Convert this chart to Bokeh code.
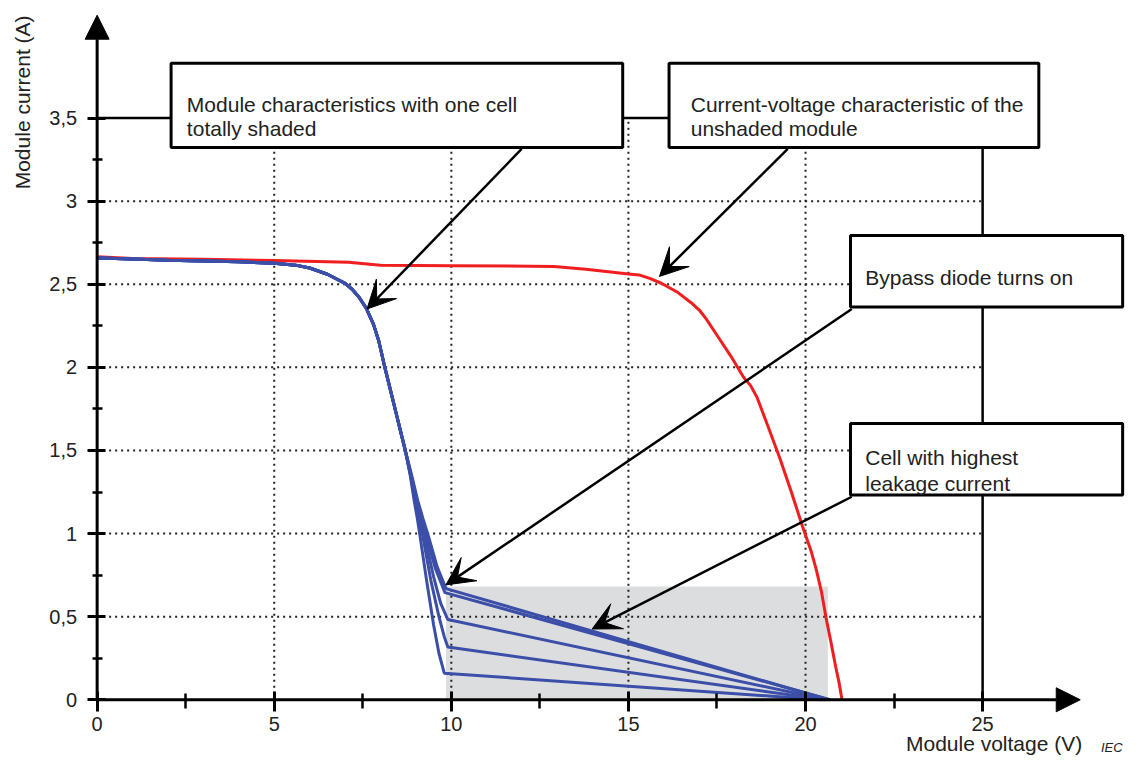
from math import pi
from bokeh.plotting import figure
from bokeh.models import (Range1d, LinearAxis, FixedTicker, Arrow, NormalHead, VeeHead,
                          BoxAnnotation, Label)
from bokeh.embed import file_html
from bokeh.resources import INLINE

# ---------------- data ----------------
# Unshaded module I-V characteristic
unshaded_v = [0, 1, 3, 5, 7.1, 8, 10, 12.9, 13.8, 15.0, 15.3, 15.6, 15.93, 16.4, 16.77, 17.0,
              17.2, 17.51, 17.9, 18.25, 18.45, 18.63, 18.95, 19.28, 19.6, 19.92, 20.15, 20.3,
              20.45, 20.58, 20.72, 20.85, 20.95, 21.03]
unshaded_i = [2.665, 2.655, 2.65, 2.643, 2.633, 2.615, 2.612, 2.607, 2.59, 2.562, 2.556,
              2.535, 2.506, 2.45, 2.389, 2.345, 2.29, 2.19, 2.065, 1.94, 1.89, 1.82, 1.64,
              1.45, 1.25, 1.04, 0.9, 0.786, 0.65, 0.493, 0.345, 0.2, 0.1, 0.0]

# Module with one cell totally shaded: common upper part
shaded_common_v = [0, 1, 2, 3, 4, 5, 5.6, 6.0, 6.5, 7.0, 7.2, 7.4, 7.6, 7.8, 7.95, 8.1,
                   8.25, 8.4, 8.55, 8.7]
shaded_common_i = [2.658, 2.652, 2.645, 2.64, 2.635, 2.627, 2.615, 2.598, 2.56, 2.505,
                   2.47, 2.42, 2.355, 2.26, 2.16, 2.02, 1.89, 1.76, 1.63, 1.5]

# individual lower parts (different shaded cells / leakage currents)
shaded_a_v = [8.88, 9.05, 9.2, 9.36, 9.6, 9.85, 20.65]
shaded_a_i = [1.35, 1.2, 1.09, 0.98, 0.8, 0.669, 0.0]
shaded_e_v = [8.87, 9.03, 9.17, 9.3, 9.55, 9.82, 20.7]
shaded_e_i = [1.35, 1.2, 1.09, 0.98, 0.79, 0.645, 0.0]
shaded_b_v = [8.86, 9.0, 9.13, 9.25, 9.5, 9.7, 9.9, 20.6]
shaded_b_i = [1.35, 1.2, 1.09, 0.98, 0.74, 0.58, 0.483, 0.0]
shaded_c_v = [8.85, 8.98, 9.09, 9.2, 9.42, 9.65, 9.8, 9.9, 20.55]
shaded_c_i = [1.35, 1.2, 1.09, 0.98, 0.72, 0.5, 0.38, 0.317, 0.0]
shaded_d_v = [8.84, 8.95, 9.04, 9.12, 9.3, 9.5, 9.65, 9.8, 20.45]
shaded_d_i = [1.35, 1.2, 1.09, 0.98, 0.72, 0.45, 0.28, 0.16, 0.0]

# highlighted region (bypass region)
region_v = [9.85, 20.63]
region_i = [0.0, 0.682]

x_ticks = [0, 5, 10, 15, 20, 25]
x_tick_labels = ["0", "5", "10", "15", "20", "25"]
x_minor_ticks = [2.5, 7.5, 12.5, 17.5, 22.5]
y_ticks = [0, 0.5, 1, 1.5, 2, 2.5, 3, 3.5]
y_tick_labels = ["0", "0,5", "1", "1,5", "2", "2,5", "3", "3,5"]
y_minor_ticks = [0.25, 0.75, 1.25, 1.75, 2.25, 2.75, 3.25]
grid_x = [5, 10, 15, 20]
grid_y = [0.5, 1, 1.5, 2, 2.5, 3]

# ---------------- layout ----------------
# The canvas represents the 1148x776 reference picture, slightly scaled to fit the window.
W, H = 1132, 760
REF_W, REF_H = 1148, 776
X0_PX, X_PER = 98.0, 35.92     # reference pixel of 0 V, pixels per volt
Y0_PX, Y_PER = 714.0, 169.71   # reference pixel of 0 A, pixels per ampere


def dx(px):
    return (px - X0_PX) / X_PER


def dy(py):
    return (Y0_PX - py) / Y_PER


FONT = "Liberation Sans"
TXT = "#222222"
BLUE = "#3b4ea8"
RED = "#f01e1e"

p = figure(width=W, height=H, x_range=Range1d(dx(0), dx(REF_W)), y_range=Range1d(dy(REF_H), dy(0)),
           x_axis_type=None, y_axis_type=None, toolbar_location=None, output_backend="svg",
           min_border=0, outline_line_color=None, background_fill_color="white")
p.xgrid.visible = False
p.ygrid.visible = False

# grey region
p.quad(left=[region_v[0]], right=[region_v[1]], bottom=[region_i[0]], top=[region_i[1]],
       fill_color="#dcdddf", line_color=None)

# dotted grid
x_max, y_max = x_ticks[-1], y_ticks[-1]
p.segment(x0=grid_x, y0=[0] * len(grid_x), x1=grid_x, y1=[y_max] * len(grid_x),
          line_color="#222222", line_width=2, line_dash="2 4")
p.segment(x0=[0] * len(grid_y), y0=grid_y, x1=[x_max] * len(grid_y), y1=grid_y,
          line_color="#222222", line_width=2, line_dash="2 4")
# solid frame at 3.5 A and 25 V
p.segment(x0=[0, x_max], y0=[y_max, 0], x1=[x_max, x_max], y1=[y_max, y_max],
          line_color="black", line_width=2.5)

# curves
p.line(unshaded_v, unshaded_i, line_color=RED, line_width=3)
for tv, ti in [(shaded_d_v, shaded_d_i), (shaded_c_v, shaded_c_i), (shaded_b_v, shaded_b_i),
               (shaded_e_v, shaded_e_i), (shaded_a_v, shaded_a_i)]:
    p.line(shaded_common_v + tv, shaded_common_i + ti, line_color=BLUE, line_width=3)

# axes
yaxis = LinearAxis(fixed_location=0, ticker=FixedTicker(ticks=y_ticks, minor_ticks=y_minor_ticks),
                   major_label_overrides=dict(zip(y_ticks, y_tick_labels)),
                   axis_line_color=None, major_tick_in=8, major_tick_out=10,
                   minor_tick_in=5, minor_tick_out=5, major_tick_line_width=3,
                   minor_tick_line_width=2.5, major_label_standoff=10,
                   major_label_text_font=FONT, major_label_text_font_size="20px",
                   major_label_text_color=TXT)
p.add_layout(yaxis, "left")
xaxis = LinearAxis(fixed_location=0, ticker=FixedTicker(ticks=x_ticks, minor_ticks=x_minor_ticks),
                   major_label_overrides=dict(zip(x_ticks, x_tick_labels)),
                   axis_line_color=None, major_tick_in=8, major_tick_out=12,
                   minor_tick_in=6, minor_tick_out=9, major_tick_line_width=3,
                   minor_tick_line_width=2.5, major_label_standoff=5,
                   major_label_text_font=FONT, major_label_text_font_size="20px",
                   major_label_text_color=TXT)
p.add_layout(xaxis, "below")

# axis lines with arrow heads
p.add_layout(Arrow(end=NormalHead(size=24, fill_color="black", line_color="black"),
                   x_start=0, y_start=0, x_end=0, y_end=dy(15), line_width=3))
p.add_layout(Arrow(end=NormalHead(size=24, fill_color="black", line_color="black"),
                   x_start=0, y_start=0, x_end=dx(1095), y_end=0, line_width=3))

# axis titles
p.add_layout(Label(x=dx(22), y=dy(104), text="Module current (A)", angle=pi / 2,
                   text_align="center", text_baseline="middle", text_font=FONT,
                   text_font_size="21px", text_color=TXT))
p.add_layout(Label(x=dx(1097), y=dy(759), text="Module voltage (V)", text_align="right",
                   text_baseline="alphabetic", text_font=FONT, text_font_size="21px",
                   text_color=TXT))
p.add_layout(Label(x=dx(1116), y=dy(755), text="IEC", text_align="left", text_baseline="top",
                   text_font=FONT, text_font_size="13px", text_font_style="italic",
                   text_color=TXT))

# annotation boxes (reference pixel positions)
boxes = [
    (173, 631, 64, 150),
    (678, 1053, 64, 150),
    (862, 1138, 240, 313),
    (862, 1138, 432, 505),
]
for l, r, t, b in boxes:
    p.add_layout(BoxAnnotation(left=dx(l), right=dx(r), top=dy(t), bottom=dy(b),
                               fill_color="white", fill_alpha=1.0, line_color="black",
                               line_width=3, line_alpha=1.0))

texts = [
    (189, 106.0, "Module characteristics with one cell"),
    (189, 131.0, "totally shaded"),
    (700, 106.0, "Current-voltage characteristic of the"),
    (700, 131.0, "unshaded module"),
    (877, 283.0, "Bypass diode turns on"),
    (877, 466.5, "Cell with highest"),
    (877, 493.5, "leakage current"),
]
for x, y, t in texts:
    p.add_layout(Label(x=dx(x), y=dy(y), text=t, text_align="left", text_baseline="alphabetic",
                       text_font=FONT, text_font_size="21px", text_color=TXT))

# pointer arrows
pointers = [
    ((528.5, 151.5), (371.7, 315.0)),
    ((798.4, 151.5), (668.3, 281.7)),
    ((863.3, 315.0), (451.7, 596.7)),
    ((863.3, 506.7), (600.0, 641.7)),
]
for (sx, sy), (ex, ey) in pointers:
    p.add_layout(Arrow(end=VeeHead(size=28, fill_color="black", line_color="black"),
                       x_start=dx(sx), y_start=dy(sy), x_end=dx(ex), y_end=dy(ey),
                       line_width=2.5, line_color="black"))

open("out.html", "w").write(file_html(p, INLINE))
